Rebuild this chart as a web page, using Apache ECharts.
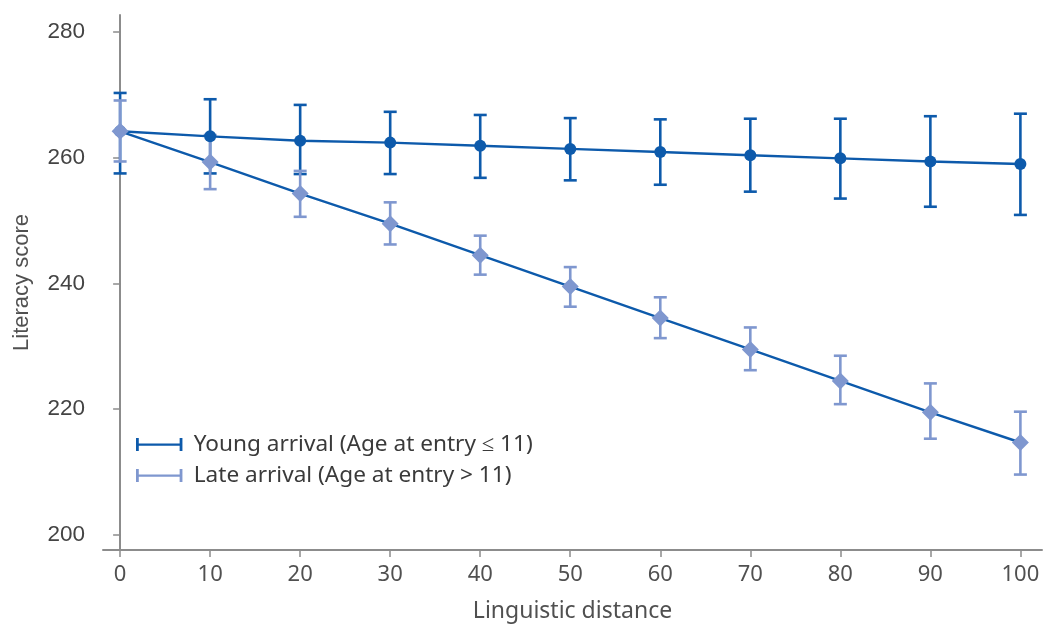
<!DOCTYPE html>
<html lang="en" style="height: 100%">
<head>
  <meta charset="utf-8">
</head>
<body style="height: 100%; margin: 0">
  <div id="container" style="height: 100%"></div>

  <script type="text/javascript" src="https://fastly.jsdelivr.net/npm/echarts@6.0.0/dist/echarts.min.js"></script>
  <script type="text/javascript">
// linguistic distance
var distance = [0, 10, 20, 30, 40, 50, 60, 70, 80, 90, 100];
var xTicks = [0, 10, 20, 30, 40, 50, 60, 70, 80, 90, 100];
var yTicks = [200, 220, 240, 260, 280];

// young arrival (age at entry <= 11)
var youngMean = [264.2, 263.4, 262.7, 262.4, 261.9, 261.4, 260.9, 260.4, 259.9, 259.4, 259.0];
var youngLow  = [257.5, 257.5, 257.4, 257.4, 256.8, 256.4, 255.7, 254.6, 253.5, 252.2, 250.9];
var youngHigh = [270.3, 269.3, 268.4, 267.3, 266.8, 266.3, 266.1, 266.2, 266.2, 266.6, 267.0];

// late arrival (age at entry > 11)
var lateMean = [264.2, 259.3, 254.3, 249.5, 244.5, 239.5, 234.5, 229.5, 224.5, 219.5, 214.7];
var lateLow  = [259.4, 255.0, 250.6, 246.2, 241.4, 236.3, 231.3, 226.2, 220.8, 215.3, 209.6];
var lateHigh = [269.1, 263.6, 257.9, 252.9, 247.6, 242.6, 237.8, 233.0, 228.5, 224.1, 219.6];

var youngName = 'Young arrival (Age at entry \u2264 11)';
var lateName = 'Late arrival (Age at entry > 11)';
var darkBlue = '#0d5aab';
var lightBlue = '#7f97cf';

var dom = document.getElementById('container');
var myChart = echarts.init(dom, null, { renderer: 'canvas' });

function pairs(xs, ys) {
  return xs.map(function (x, i) { return [x, ys[i]]; });
}
function errData(xs, lo, hi) {
  return xs.map(function (x, i) { return [x, lo[i], hi[i]]; });
}
function errorBars(color) {
  return function (params, api) {
    var top = api.coord([api.value(0), api.value(2)]);
    var bot = api.coord([api.value(0), api.value(1)]);
    var half = 6.5;
    var style = { stroke: color, lineWidth: 2.6, fill: null };
    return {
      type: 'group',
      children: [
        { type: 'line', shape: { x1: top[0], y1: top[1], x2: bot[0], y2: bot[1] }, style: style },
        { type: 'line', shape: { x1: top[0] - half, y1: top[1], x2: top[0] + half, y2: top[1] }, style: style },
        { type: 'line', shape: { x1: bot[0] - half, y1: bot[1], x2: bot[0] + half, y2: bot[1] }, style: style }
      ]
    };
  };
}

var legendIcon = 'path://M0,0 h3 v14 h-3 z M0,5.8 h50 v2.6 h-50 z M47,0 h3 v14 h-3 z';

var option = {
  animation: false,
  grid: { left: 103, right: 4, top: 15, bottom: 74, outerBoundsMode: 'none', containLabel: false },
  legend: {
    orient: 'vertical',
    left: 131,
    top: 428,
    itemWidth: 49,
    itemHeight: 13,
    itemGap: 8,
    selectedMode: false,
    textStyle: { fontFamily: 'Noto Sans', fontSize: 22.6, color: '#3a3a3a', padding: [0, 0, 0, 5] },
    data: [
      { name: youngName, icon: legendIcon },
      { name: lateName, icon: legendIcon }
    ]
  },
  xAxis: {
    type: 'value',
    min: -1.9,
    max: 102.4,
    name: 'Linguistic distance',
    nameLocation: 'middle',
    nameGap: 50,
    nameTextStyle: { fontFamily: 'Noto Sans', fontSize: 23, color: '#505050' },
    splitLine: { show: false },
    axisLine: { lineStyle: { color: '#8c8c8c', width: 2 } },
    axisTick: { customValues: xTicks, length: 7, lineStyle: { color: '#8c8c8c', width: 1.5 } },
    axisLabel: { customValues: xTicks, margin: 14, fontFamily: 'Noto Sans', fontSize: 22, color: '#505050' }
  },
  yAxis: {
    type: 'value',
    min: 197.6,
    max: 282.7,
    name: 'Literacy score',
    nameLocation: 'middle',
    nameGap: 70,
    nameTextStyle: { fontFamily: 'Liberation Sans', fontSize: 22, color: '#505050' },
    splitLine: { show: false },
    axisLine: { show: true, lineStyle: { color: '#8c8c8c', width: 2 } },
    axisTick: { customValues: yTicks, length: 7, lineStyle: { color: '#8c8c8c', width: 1.5 } },
    axisLabel: { customValues: yTicks, margin: 18, fontFamily: 'Liberation Sans', fontSize: 22.5, color: '#444444' }
  },
  series: [
    {
      name: youngName,
      type: 'custom',
      itemStyle: { color: darkBlue },
      renderItem: errorBars(darkBlue),
      data: errData(distance, youngLow, youngHigh),
      z: 1
    },
    {
      name: lateName,
      type: 'custom',
      itemStyle: { color: lightBlue },
      renderItem: errorBars(lightBlue),
      data: errData(distance, lateLow, lateHigh),
      z: 2
    },
    {
      name: 'young-mean',
      type: 'line',
      data: pairs(distance, youngMean),
      symbol: 'circle',
      symbolSize: 12,
      itemStyle: { color: darkBlue },
      lineStyle: { color: darkBlue, width: 2.4 },
      z: 3
    },
    {
      name: 'late-mean',
      type: 'line',
      data: pairs(distance, lateMean),
      symbol: 'diamond',
      symbolSize: 17,
      itemStyle: { color: lightBlue },
      lineStyle: { color: darkBlue, width: 2.4 },
      z: 4
    }
  ]
};

myChart.setOption(option);
window.addEventListener('resize', myChart.resize);
  </script>
</body>
</html>
